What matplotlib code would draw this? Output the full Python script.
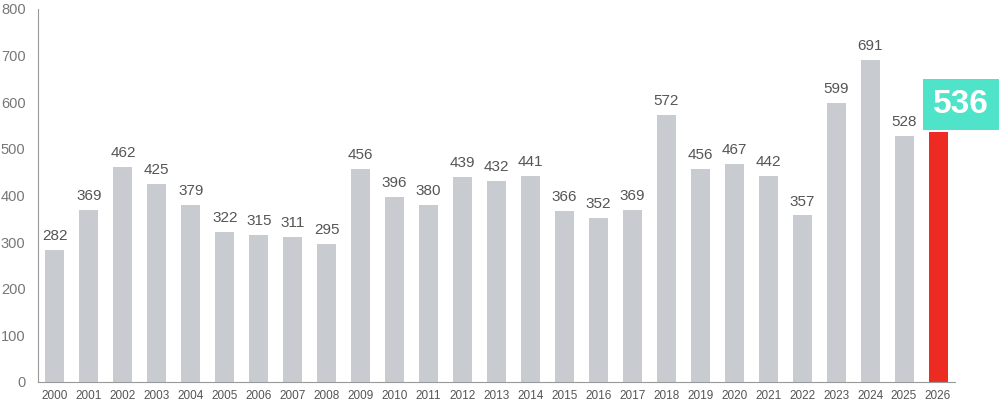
import matplotlib.pyplot as plt

years = [str(y) for y in range(2000, 2027)]
counts = [282, 369, 462, 425, 379, 322, 315, 311, 295, 456, 396, 380, 439, 432,
          441, 366, 352, 369, 572, 456, 467, 442, 357, 599, 691, 528, 536]
yticks = [0, 100, 200, 300, 400, 500, 600, 700, 800]

plt.rcParams['font.family'] = ['Liberation Sans', 'DejaVu Sans']

grey = '#c8cbd0'
red = '#ee2b22'
teal = '#4fe3c9'
text_col = '#555555'

fig = plt.figure(figsize=(10, 4.08), dpi=100)
ax = fig.add_axes([0.038, 0.064, 0.917, 0.914])

x = list(range(len(years)))
colors = [grey] * (len(years) - 1) + [red]
ax.bar(x, counts, width=0.56, color=colors, zorder=2)

# value labels for all but the last (highlighted) bar
for i, v in enumerate(counts[:-1]):
    ax.annotate(str(v), (i, v), xytext=(0, 5), textcoords='offset points',
                ha='center', va='bottom', fontsize=11, color=text_col)

# highlighted last value in a teal badge
last = len(counts) - 1
ax.annotate(str(counts[-1]), (last - 0.15, counts[-1]), xytext=(0, 8.5),
            textcoords='offset points', ha='left', va='bottom',
            fontsize=24, fontweight='bold', color='white',
            bbox=dict(boxstyle='square,pad=0.3', fc=teal, ec='none'),
            annotation_clip=False)

ax.set_xlim(-0.5, len(years) - 0.5)
ax.set_ylim(0, 800)
ax.set_xticks(x)
ax.set_xticklabels(years, fontsize=8.5, color=text_col)
ax.set_yticks(yticks)
ax.set_yticklabels([str(t) for t in yticks], fontsize=10.5, color='#777777')
ax.tick_params(axis='both', length=0)
ax.tick_params(axis='x', pad=6)
ax.tick_params(axis='y', pad=9)

for s in ['top', 'right']:
    ax.spines[s].set_visible(False)
ax.spines['left'].set_color('#999999')
ax.spines['bottom'].set_color('#999999')

fig.savefig('out.png', dpi=100)
